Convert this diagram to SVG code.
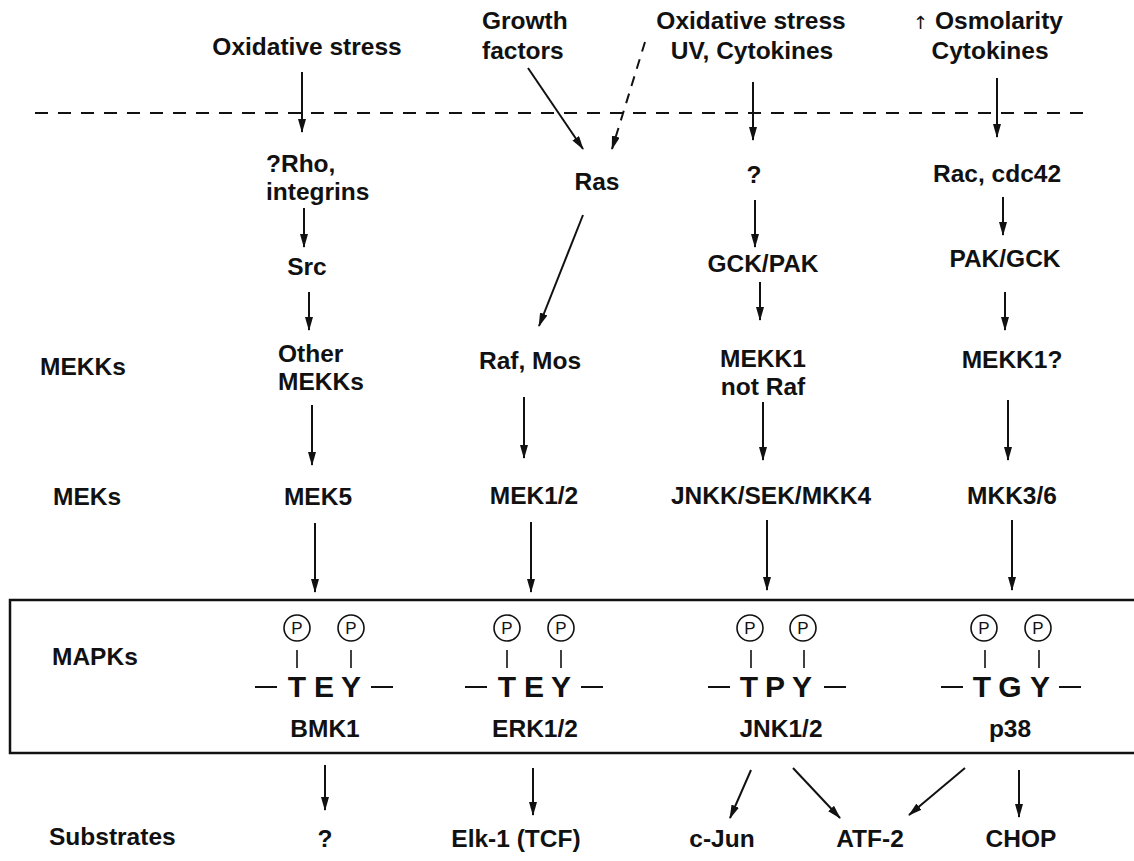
<svg xmlns="http://www.w3.org/2000/svg" width="1134" height="861" viewBox="0 0 1134 861">
<style>
text{font-family:"Liberation Sans",Arial,sans-serif;font-weight:bold;font-size:24.5px;fill:#111}
.m{text-anchor:middle}
.aa{font-size:30px;text-anchor:middle}
.p{font-weight:normal;font-size:17px;text-anchor:middle}
.up{font-family:"DejaVu Sans",sans-serif;font-weight:normal;font-size:18px;fill:#111}
.c{fill:none;stroke:#111;stroke-width:1.6}
.ln{stroke:#111;stroke-width:2;fill:none}
.tk{stroke:#111;stroke-width:1.6;fill:none}
.ar{stroke:#111;stroke-width:2;fill:none;marker-end:url(#ah)}
.da{stroke:#111;stroke-width:2;fill:none;stroke-dasharray:10 8;marker-end:url(#ah)}
</style>
<defs>
<marker id="ah" viewBox="0 0 14 8" markerWidth="14" markerHeight="8" refX="13" refY="4" orient="auto" markerUnits="userSpaceOnUse">
<path d="M0,0 L14,4 L0,8 z" fill="#111"/>
</marker>
</defs>
<rect width="1134" height="861" fill="#fff"/>

<g id="membrane"><line x1="35" y1="113" x2="1090" y2="113" stroke="#111" stroke-width="2" stroke-dasharray="13 10"/></g>
<g id="mapk-box"><rect x="10" y="600" width="1135" height="153" fill="none" stroke="#111" stroke-width="2.5"/></g>

<g id="row-labels">
<text x="40" y="375">MEKKs</text>
<text x="53" y="505">MEKs</text>
<text x="52" y="665">MAPKs</text>
<text x="49" y="845">Substrates</text>
</g>

<g id="stim-ox1"><text class="m" x="307" y="55">Oxidative stress</text></g>
<g id="stim-gf"><text x="482" y="29">Growth</text><text x="482" y="59">factors</text></g>
<g id="stim-ox2"><text class="m" x="751" y="29">Oxidative stress</text><text class="m" x="752" y="59">UV, Cytokines</text></g>
<g id="stim-osm"><text class="m" x="988" y="29"><tspan class="up">↑</tspan> Osmolarity</text><text class="m" x="990" y="59">Cytokines</text></g>

<g id="rho"><text x="266" y="172">?Rho,</text><text x="266" y="200">integrins</text></g>
<g id="src"><text class="m" x="307" y="275">Src</text></g>
<g id="other-mekks"><text x="278" y="362">Other</text><text x="278" y="390">MEKKs</text></g>
<g id="mek5"><text class="m" x="318" y="505">MEK5</text></g>

<g id="ras"><text class="m" x="597" y="190">Ras</text></g>
<g id="raf"><text class="m" x="530" y="369">Raf, Mos</text></g>
<g id="mek12"><text class="m" x="534" y="504">MEK1/2</text></g>

<g id="q3"><text class="m" x="754" y="183">?</text></g>
<g id="gckpak"><text class="m" x="763" y="272">GCK/PAK</text></g>
<g id="mekk1"><text class="m" x="763" y="367">MEKK1</text><text class="m" x="763" y="395">not Raf</text></g>
<g id="jnkk"><text class="m" x="771" y="504">JNKK/SEK/MKK4</text></g>

<g id="rac"><text class="m" x="997" y="182">Rac, cdc42</text></g>
<g id="pakgck"><text class="m" x="1005" y="267">PAK/GCK</text></g>
<g id="mekk1q"><text class="m" x="1012" y="368">MEKK1?</text></g>
<g id="mkk36"><text class="m" x="1012" y="504">MKK3/6</text></g>

<g id="bmk1">
<circle class="c" cx="297" cy="628" r="13"/><text class="p" x="297" y="634">P</text>
<circle class="c" cx="351" cy="628" r="13"/><text class="p" x="351" y="634">P</text>
<line class="tk" x1="297" y1="650" x2="297" y2="668"/><line class="tk" x1="351" y1="650" x2="351" y2="668"/>
<line class="ln" x1="255" y1="687" x2="277" y2="687"/><line class="ln" x1="371" y1="687" x2="393" y2="687"/>
<text class="aa" x="297" y="697">T</text><text class="aa" x="324" y="697">E</text><text class="aa" x="351" y="697">Y</text>
<text class="m" x="325" y="737">BMK1</text>
</g>
<g id="erk12">
<circle class="c" cx="507" cy="628" r="13"/><text class="p" x="507" y="634">P</text>
<circle class="c" cx="561" cy="628" r="13"/><text class="p" x="561" y="634">P</text>
<line class="tk" x1="507" y1="650" x2="507" y2="668"/><line class="tk" x1="561" y1="650" x2="561" y2="668"/>
<line class="ln" x1="465" y1="687" x2="487" y2="687"/><line class="ln" x1="581" y1="687" x2="603" y2="687"/>
<text class="aa" x="507" y="697">T</text><text class="aa" x="534" y="697">E</text><text class="aa" x="561" y="697">Y</text>
<text class="m" x="535" y="737">ERK1/2</text>
</g>
<g id="jnk12">
<circle class="c" cx="750" cy="628" r="13"/><text class="p" x="750" y="634">P</text>
<circle class="c" cx="803" cy="628" r="13"/><text class="p" x="803" y="634">P</text>
<line class="tk" x1="751" y1="650" x2="751" y2="668"/><line class="tk" x1="804" y1="650" x2="804" y2="668"/>
<line class="ln" x1="708" y1="687" x2="730" y2="687"/><line class="ln" x1="824" y1="687" x2="846" y2="687"/>
<text class="aa" x="749" y="697">T</text><text class="aa" x="775" y="697">P</text><text class="aa" x="802" y="697">Y</text>
<text class="m" x="781" y="737">JNK1/2</text>
</g>
<g id="p38">
<circle class="c" cx="984" cy="628" r="13"/><text class="p" x="984" y="634">P</text>
<circle class="c" cx="1038" cy="628" r="13"/><text class="p" x="1038" y="634">P</text>
<line class="tk" x1="985" y1="650" x2="985" y2="668"/><line class="tk" x1="1039" y1="650" x2="1039" y2="668"/>
<line class="ln" x1="941" y1="687" x2="963" y2="687"/><line class="ln" x1="1059" y1="687" x2="1081" y2="687"/>
<text class="aa" x="982" y="697">T</text><text class="aa" x="1010" y="697">G</text><text class="aa" x="1040" y="697">Y</text>
<text class="m" x="1010" y="737">p38</text>
</g>

<g id="sub-q"><text class="m" x="325" y="847">?</text></g>
<g id="sub-elk"><text class="m" x="516" y="847">Elk-1 (TCF)</text></g>
<g id="sub-cjun"><text class="m" x="722" y="847">c-Jun</text></g>
<g id="sub-atf2"><text class="m" x="870" y="847">ATF-2</text></g>
<g id="sub-chop"><text class="m" x="1021" y="847">CHOP</text></g>

<g id="connectors">
<line class="ar" x1="302" y1="72" x2="302" y2="132"/>
<line class="ar" x1="528" y1="68" x2="583" y2="149"/>
<line class="da" x1="645" y1="42" x2="612" y2="149"/>
<line class="ar" x1="753" y1="82" x2="753" y2="140"/>
<line class="ar" x1="997" y1="78" x2="997" y2="137"/>

<line class="ar" x1="304" y1="208" x2="304" y2="247"/>
<line class="ar" x1="309" y1="292" x2="309" y2="330"/>
<line class="ar" x1="312" y1="405" x2="312" y2="465"/>
<line class="ar" x1="315" y1="523" x2="315" y2="592"/>

<line class="ar" x1="583" y1="215" x2="539" y2="326"/>
<line class="ar" x1="524" y1="397" x2="524" y2="458"/>
<line class="ar" x1="531" y1="522" x2="531" y2="592"/>

<line class="ar" x1="755" y1="200" x2="755" y2="247"/>
<line class="ar" x1="760" y1="282" x2="760" y2="320"/>
<line class="ar" x1="763" y1="402" x2="763" y2="460"/>
<line class="ar" x1="767" y1="520" x2="767" y2="590"/>

<line class="ar" x1="1003" y1="197" x2="1003" y2="235"/>
<line class="ar" x1="1005" y1="292" x2="1005" y2="330"/>
<line class="ar" x1="1008" y1="400" x2="1008" y2="460"/>
<line class="ar" x1="1012" y1="520" x2="1012" y2="590"/>

<line class="ar" x1="325" y1="765" x2="325" y2="810"/>
<line class="ar" x1="533" y1="768" x2="533" y2="815"/>
<line class="ar" x1="751" y1="770" x2="730" y2="818"/>
<line class="ar" x1="793" y1="768" x2="840" y2="818"/>
<line class="ar" x1="965" y1="768" x2="909" y2="815"/>
<line class="ar" x1="1019" y1="770" x2="1019" y2="817"/>
</g>
</svg>
